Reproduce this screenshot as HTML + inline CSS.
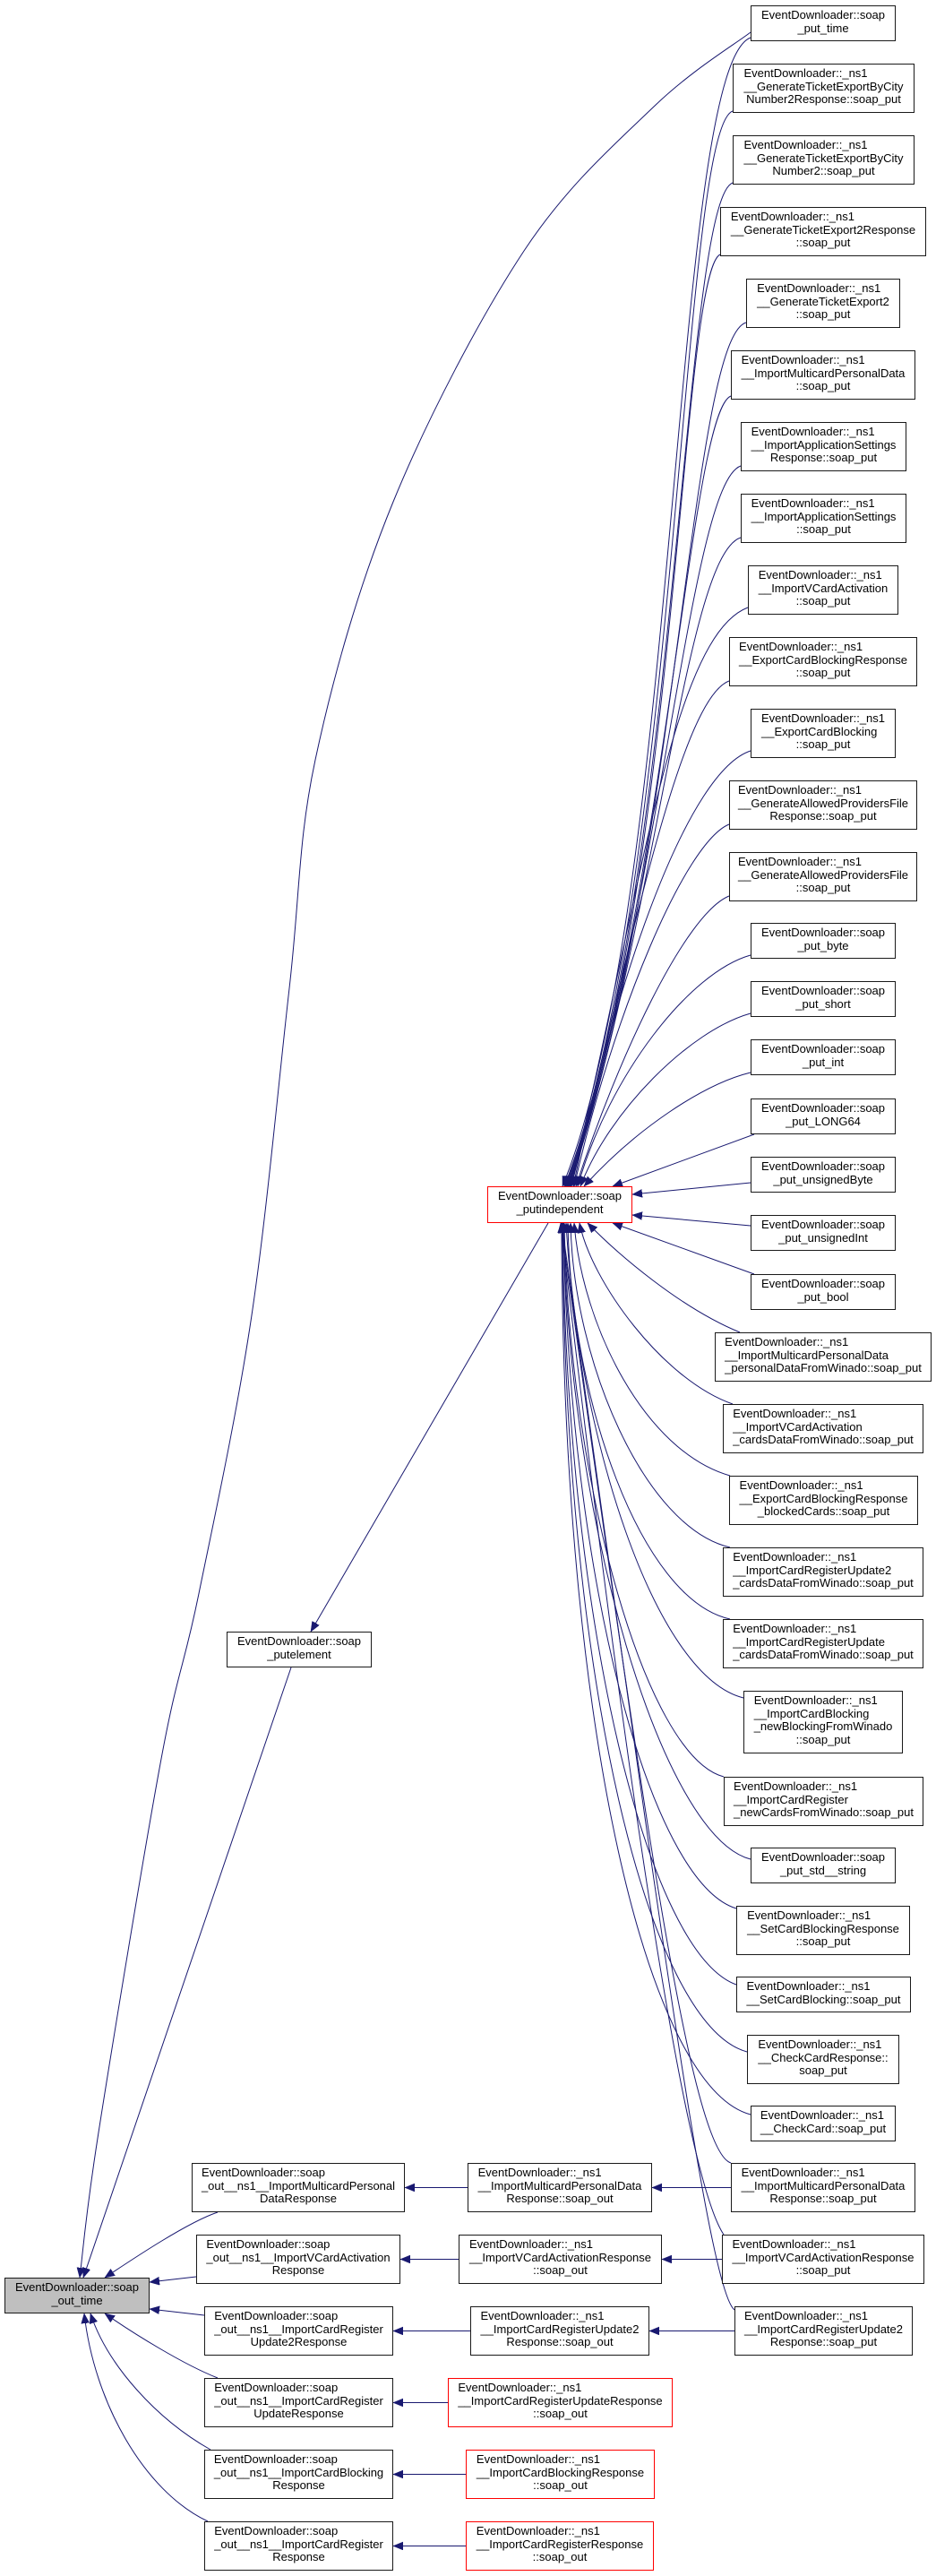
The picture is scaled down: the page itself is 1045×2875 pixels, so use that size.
<!DOCTYPE html>
<html>
<head>
<meta charset="utf-8">
<style>
html,body{margin:0;padding:0;}
body{width:1045px;height:2875px;position:relative;background:#fff;overflow:hidden;font-family:"Liberation Sans",Arial,sans-serif;font-size:13px;color:#000;}
svg{position:absolute;left:0;top:0;}
.n{position:absolute;box-sizing:border-box;border:1px solid #1a1a1a;background:#fff;}
.n.r{border-color:#ff0000;}
.n.g{background:#bfbfbf;}
.t{display:table;margin:3px auto 0;line-height:14.5px;white-space:nowrap;text-align:left;}
.t div:last-child{text-align:center;}
</style>
</head>
<body>
<svg width="1045" height="2875" viewBox="0 0 1045 2875">
<defs>
<marker id="a" markerUnits="userSpaceOnUse" markerWidth="12" markerHeight="10" refX="11" refY="4.5" orient="auto">
<path d="M0,0 L11,4.5 L0,9 Z" fill="#191970" stroke="#191970" stroke-width="0.5"/>
</marker>
</defs>
<g fill="none" stroke="#191970" stroke-width="1" marker-end="url(#a)">
<!-- long edge put_time -> main -->
<path d="M838,36 C820,49.8 772.2,78.3 730,119 C687.8,159.7 633.5,206.5 585,280 C536.5,353.5 477.8,465.3 439,560 C400.2,654.7 371.3,757.5 352,848 C332.7,938.5 334.9,999.3 323,1103 C311.1,1206.7 297.6,1357.2 280.7,1470 C263.8,1582.8 238.5,1697.8 221.7,1780 C204.9,1862.2 198.6,1863 180,1963 C161.4,2063 125.2,2283.5 110,2380 C94.8,2476.5 92.5,2515 89,2542"/>
<!-- putelement -> main -->
<path d="M325,1861 L93,2542"/>
<!-- putindependent -> putelement -->
<path d="M612,1365 L347,1821"/>
<!-- left column -> main -->
<path d="M243,2469 C210,2480 150,2520 117,2542"/>
<path d="M219,2541 L167,2547"/>
<path d="M228,2584 L167,2577"/>
<path d="M243,2654 C205,2639 150,2605 117,2582"/>
<path d="M235,2734 C175,2700 120,2640 101,2582"/>
<path d="M232,2814 C160,2780 105,2680 94,2582"/>
<!-- middle -> left -->
<path d="M522,2441.5 L452,2441.5"/>
<path d="M512,2521.5 L447,2521.5"/>
<path d="M525,2601.5 L439,2601.5"/>
<path d="M500,2681.5 L439,2681.5"/>
<path d="M520,2761.5 L439,2761.5"/>
<path d="M520,2841.5 L439,2841.5"/>
<!-- right -> middle -->
<path d="M816,2441.5 L728,2441.5"/>
<path d="M806,2521.5 L739,2521.5"/>
<path d="M820,2601.5 L725,2601.5"/>
<!-- upper fan -->
<path d="M838,42 C750,75 760,1000 628,1324"/>
<path d="M818,124 C760,145 758,1000 630,1324"/>
<path d="M818,204 C762,225 757,1000 631,1324"/>
<path d="M804,284 C760,305 756,1000 632,1324"/>
<path d="M833,360 C770,378 755,1000 633,1324"/>
<path d="M816,442 C770,460 745,1000 634,1324"/>
<path d="M827,520 C770,540 740,1000 635,1324"/>
<path d="M827,600 C765,620 735,1020 636,1324"/>
<path d="M835,678 C750,710 715,1000 637,1324"/>
<path d="M814,760 C760,780 705,1050 638,1324"/>
<path d="M838,838 C770,860 690,1080 640,1324"/>
<path d="M814,920 C765,940 685,1130 641,1324"/>
<path d="M814,1000 C765,1020 690,1180 643,1324"/>
<path d="M838,1066 C770,1085 680,1200 645,1324"/>
<path d="M838,1131 C770,1150 680,1240 648,1324"/>
<path d="M838,1197 C785,1210 710,1260 652,1324"/>
<path d="M842,1266 L684,1324"/>
<path d="M838,1320 L706,1333"/>
<path d="M838,1368 L706,1356"/>
<path d="M842,1422 L684,1365"/>
<!-- lower fan -->
<path d="M826,1487 C760,1460 690,1400 656,1365"/>
<path d="M818,1567 C740,1540 660,1430 647,1365"/>
<path d="M815,1647 C720,1620 650,1480 641,1365"/>
<path d="M815,1727 C720,1705 640,1520 637,1365"/>
<path d="M815,1807 C715,1785 637,1560 634,1365"/>
<path d="M830,1895 C730,1870 645,1600 632,1365"/>
<path d="M808,1983 C720,1960 635,1650 630,1365"/>
<path d="M838,2075 C740,2050 635,1700 629,1365"/>
<path d="M822,2130 C725,2100 635,1760 629,1365"/>
<path d="M822,2215 C725,2180 633,1820 628,1365"/>
<path d="M834,2290 C725,2260 630,1880 628,1365"/>
<path d="M838,2360 C725,2330 628,1940 627,1365"/>
<path d="M816,2414 C770,2400 715,2000 626,1365"/>
<path d="M808,2494 C765,2430 700,2000 626,1365"/>
<path d="M820,2578 C790,2555 730,2100 627,1365"/>
</g>
</svg>

<!-- Right column -->
<div class="n" style="left:838px;top:6px;width:162px;height:40px"><div class="t"><div>EventDownloader::soap</div><div>_put_time</div></div></div>
<div class="n" style="left:818px;top:71px;width:203px;height:55px"><div class="t"><div>EventDownloader::_ns1</div><div>__GenerateTicketExportByCity</div><div>Number2Response::soap_put</div></div></div>
<div class="n" style="left:818px;top:151px;width:203px;height:55px"><div class="t"><div>EventDownloader::_ns1</div><div>__GenerateTicketExportByCity</div><div>Number2::soap_put</div></div></div>
<div class="n" style="left:804px;top:231px;width:230px;height:55px"><div class="t"><div>EventDownloader::_ns1</div><div>__GenerateTicketExport2Response</div><div>::soap_put</div></div></div>
<div class="n" style="left:833px;top:311px;width:172px;height:55px"><div class="t"><div>EventDownloader::_ns1</div><div>__GenerateTicketExport2</div><div>::soap_put</div></div></div>
<div class="n" style="left:816px;top:391px;width:206px;height:55px"><div class="t"><div>EventDownloader::_ns1</div><div>__ImportMulticardPersonalData</div><div>::soap_put</div></div></div>
<div class="n" style="left:827px;top:471px;width:185px;height:55px"><div class="t"><div>EventDownloader::_ns1</div><div>__ImportApplicationSettings</div><div>Response::soap_put</div></div></div>
<div class="n" style="left:827px;top:551px;width:185px;height:55px"><div class="t"><div>EventDownloader::_ns1</div><div>__ImportApplicationSettings</div><div>::soap_put</div></div></div>
<div class="n" style="left:835px;top:631px;width:168px;height:55px"><div class="t"><div>EventDownloader::_ns1</div><div>__ImportVCardActivation</div><div>::soap_put</div></div></div>
<div class="n" style="left:814px;top:711px;width:210px;height:55px"><div class="t"><div>EventDownloader::_ns1</div><div>__ExportCardBlockingResponse</div><div>::soap_put</div></div></div>
<div class="n" style="left:838px;top:791px;width:162px;height:55px"><div class="t"><div>EventDownloader::_ns1</div><div>__ExportCardBlocking</div><div>::soap_put</div></div></div>
<div class="n" style="left:814px;top:871px;width:210px;height:55px"><div class="t"><div>EventDownloader::_ns1</div><div>__GenerateAllowedProvidersFile</div><div>Response::soap_put</div></div></div>
<div class="n" style="left:814px;top:951px;width:210px;height:55px"><div class="t"><div>EventDownloader::_ns1</div><div>__GenerateAllowedProvidersFile</div><div>::soap_put</div></div></div>
<div class="n" style="left:838px;top:1030px;width:162px;height:40px"><div class="t"><div>EventDownloader::soap</div><div>_put_byte</div></div></div>
<div class="n" style="left:838px;top:1095px;width:162px;height:40px"><div class="t"><div>EventDownloader::soap</div><div>_put_short</div></div></div>
<div class="n" style="left:838px;top:1160px;width:162px;height:40px"><div class="t"><div>EventDownloader::soap</div><div>_put_int</div></div></div>
<div class="n" style="left:838px;top:1226px;width:162px;height:40px"><div class="t"><div>EventDownloader::soap</div><div>_put_LONG64</div></div></div>
<div class="n" style="left:838px;top:1291px;width:162px;height:40px"><div class="t"><div>EventDownloader::soap</div><div>_put_unsignedByte</div></div></div>
<div class="n" style="left:838px;top:1356px;width:162px;height:40px"><div class="t"><div>EventDownloader::soap</div><div>_put_unsignedInt</div></div></div>
<div class="n" style="left:838px;top:1422px;width:162px;height:40px"><div class="t"><div>EventDownloader::soap</div><div>_put_bool</div></div></div>
<div class="n" style="left:798px;top:1487px;width:242px;height:55px"><div class="t"><div>EventDownloader::_ns1</div><div>__ImportMulticardPersonalData</div><div>_personalDataFromWinado::soap_put</div></div></div>
<div class="n" style="left:807px;top:1567px;width:224px;height:55px"><div class="t"><div>EventDownloader::_ns1</div><div>__ImportVCardActivation</div><div>_cardsDataFromWinado::soap_put</div></div></div>
<div class="n" style="left:814px;top:1647px;width:211px;height:55px"><div class="t"><div>EventDownloader::_ns1</div><div>__ExportCardBlockingResponse</div><div>_blockedCards::soap_put</div></div></div>
<div class="n" style="left:807px;top:1727px;width:224px;height:55px"><div class="t"><div>EventDownloader::_ns1</div><div>__ImportCardRegisterUpdate2</div><div>_cardsDataFromWinado::soap_put</div></div></div>
<div class="n" style="left:807px;top:1807px;width:224px;height:55px"><div class="t"><div>EventDownloader::_ns1</div><div>__ImportCardRegisterUpdate</div><div>_cardsDataFromWinado::soap_put</div></div></div>
<div class="n" style="left:830px;top:1887px;width:178px;height:70px"><div class="t"><div>EventDownloader::_ns1</div><div>__ImportCardBlocking</div><div>_newBlockingFromWinado</div><div>::soap_put</div></div></div>
<div class="n" style="left:808px;top:1983px;width:223px;height:55px"><div class="t"><div>EventDownloader::_ns1</div><div>__ImportCardRegister</div><div>_newCardsFromWinado::soap_put</div></div></div>
<div class="n" style="left:838px;top:2062px;width:162px;height:40px"><div class="t"><div>EventDownloader::soap</div><div>_put_std__string</div></div></div>
<div class="n" style="left:822px;top:2127px;width:194px;height:55px"><div class="t"><div>EventDownloader::_ns1</div><div>__SetCardBlockingResponse</div><div>::soap_put</div></div></div>
<div class="n" style="left:822px;top:2206px;width:195px;height:40px"><div class="t"><div>EventDownloader::_ns1</div><div>__SetCardBlocking::soap_put</div></div></div>
<div class="n" style="left:834px;top:2271px;width:170px;height:55px"><div class="t"><div>EventDownloader::_ns1</div><div>__CheckCardResponse::</div><div>soap_put</div></div></div>
<div class="n" style="left:838px;top:2350px;width:162px;height:40px"><div class="t"><div>EventDownloader::_ns1</div><div>__CheckCard::soap_put</div></div></div>
<div class="n" style="left:816px;top:2414px;width:206px;height:55px"><div class="t"><div>EventDownloader::_ns1</div><div>__ImportMulticardPersonalData</div><div>Response::soap_put</div></div></div>
<div class="n" style="left:806px;top:2494px;width:226px;height:55px"><div class="t"><div>EventDownloader::_ns1</div><div>__ImportVCardActivationResponse</div><div>::soap_put</div></div></div>
<div class="n" style="left:820px;top:2574px;width:199px;height:55px"><div class="t"><div>EventDownloader::_ns1</div><div>__ImportCardRegisterUpdate2</div><div>Response::soap_put</div></div></div>

<!-- Middle -->
<div class="n r" style="left:544px;top:1324px;width:162px;height:41px"><div class="t"><div>EventDownloader::soap</div><div>_putindependent</div></div></div>
<div class="n" style="left:253px;top:1821px;width:162px;height:40px"><div class="t"><div>EventDownloader::soap</div><div>_putelement</div></div></div>

<div class="n" style="left:522px;top:2414px;width:206px;height:55px"><div class="t"><div>EventDownloader::_ns1</div><div>__ImportMulticardPersonalData</div><div>Response::soap_out</div></div></div>
<div class="n" style="left:512px;top:2494px;width:227px;height:55px"><div class="t"><div>EventDownloader::_ns1</div><div>__ImportVCardActivationResponse</div><div>::soap_out</div></div></div>
<div class="n" style="left:525px;top:2574px;width:200px;height:55px"><div class="t"><div>EventDownloader::_ns1</div><div>__ImportCardRegisterUpdate2</div><div>Response::soap_out</div></div></div>
<div class="n r" style="left:500px;top:2654px;width:251px;height:55px"><div class="t"><div>EventDownloader::_ns1</div><div>__ImportCardRegisterUpdateResponse</div><div>::soap_out</div></div></div>
<div class="n r" style="left:520px;top:2734px;width:211px;height:55px"><div class="t"><div>EventDownloader::_ns1</div><div>__ImportCardBlockingResponse</div><div>::soap_out</div></div></div>
<div class="n r" style="left:520px;top:2814px;width:210px;height:55px"><div class="t"><div>EventDownloader::_ns1</div><div>__ImportCardRegisterResponse</div><div>::soap_out</div></div></div>

<!-- Left column -->
<div class="n" style="left:214px;top:2414px;width:238px;height:55px"><div class="t"><div>EventDownloader::soap</div><div>_out__ns1__ImportMulticardPersonal</div><div>DataResponse</div></div></div>
<div class="n" style="left:219px;top:2494px;width:228px;height:55px"><div class="t"><div>EventDownloader::soap</div><div>_out__ns1__ImportVCardActivation</div><div>Response</div></div></div>
<div class="n" style="left:228px;top:2574px;width:211px;height:55px"><div class="t"><div>EventDownloader::soap</div><div>_out__ns1__ImportCardRegister</div><div>Update2Response</div></div></div>
<div class="n" style="left:228px;top:2654px;width:211px;height:55px"><div class="t"><div>EventDownloader::soap</div><div>_out__ns1__ImportCardRegister</div><div>UpdateResponse</div></div></div>
<div class="n" style="left:228px;top:2734px;width:211px;height:55px"><div class="t"><div>EventDownloader::soap</div><div>_out__ns1__ImportCardBlocking</div><div>Response</div></div></div>
<div class="n" style="left:228px;top:2814px;width:211px;height:55px"><div class="t"><div>EventDownloader::soap</div><div>_out__ns1__ImportCardRegister</div><div>Response</div></div></div>

<!-- Main node -->
<div class="n g" style="left:5px;top:2542px;width:162px;height:40px"><div class="t"><div>EventDownloader::soap</div><div>_out_time</div></div></div>
</body>
</html>
